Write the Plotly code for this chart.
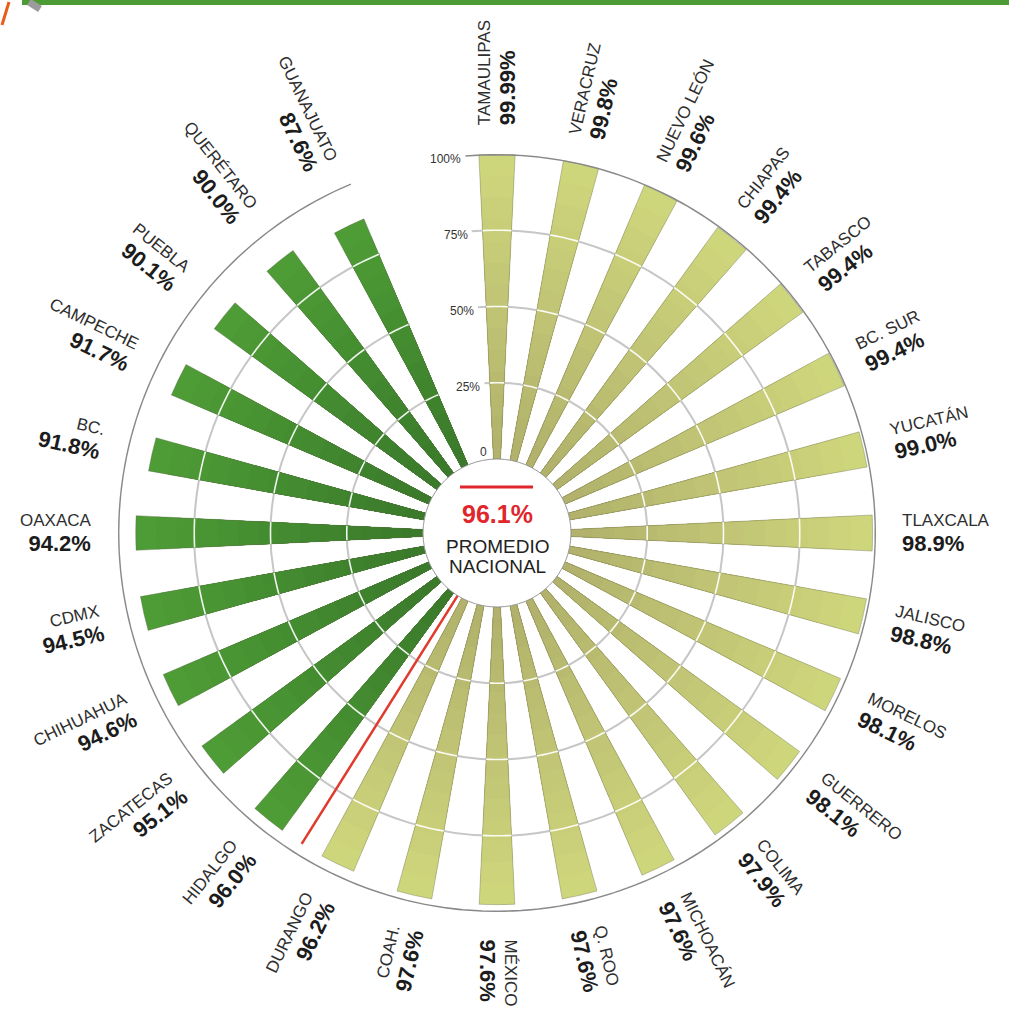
import math
import plotly.graph_objects as go

# ---------------- data ----------------
states = ["TAMAULIPAS", "VERACRUZ", "NUEVO LEÓN", "CHIAPAS", "TABASCO", "BC. SUR",
          "YUCATÁN", "TLAXCALA", "JALISCO", "MORELOS", "GUERRERO", "COLIMA",
          "MICHOACÁN", "Q. ROO", "MÉXICO", "COAH.", "DURANGO", "HIDALGO",
          "ZACATECAS", "CHIHUAHUA", "CDMX", "OAXACA", "BC.", "CAMPECHE",
          "PUEBLA", "QUERÉTARO", "GUANAJUATO"]
values = [99.99, 99.8, 99.6, 99.4, 99.4, 99.4, 99.0, 98.9, 98.8, 98.1, 98.1, 97.9,
          97.6, 97.6, 97.6, 97.6, 96.2, 96.0, 95.1, 94.6, 94.5, 94.2, 91.8, 91.7,
          90.1, 90.0, 87.6]
pct_labels = ["99.99%", "99.8%", "99.6%", "99.4%", "99.4%", "99.4%", "99.0%", "98.9%",
              "98.8%", "98.1%", "98.1%", "97.9%", "97.6%", "97.6%", "97.6%", "97.6%",
              "96.2%", "96.0%", "95.1%", "94.6%", "94.5%", "94.2%", "91.8%", "91.7%",
              "90.1%", "90.0%", "87.6%"]
national_avg = 96.1
radial_tickvals = [0, 25, 50, 75, 100]
radial_ticktext = ["0", "25%", "50%", "75%", "100%"]

# ---------------- geometry / style ----------------
W, H = 1009, 1011
CX, CY = 497, 533          # pixel centre of the polar
R_OUT = 379                # pixel radius of 100 %
R_HOLE = 74                # pixel radius of the hole
R_LABEL = 406              # inner edge of state labels
N_SLOTS = len(states) + 1  # one empty slot for the radial axis
STEP = 360.0 / N_SLOTS
BAR_W = 5.5
NAME_SIZE = 17
PCT_SIZE = 22

LIGHT_OUT, LIGHT_IN = (206, 214, 124), (178, 178, 108)
GREEN_OUT, GREEN_IN = (77, 156, 54), (58, 122, 42)
FONT = "Liberation Sans, Arial, sans-serif"

thetas = [i * STEP for i in range(len(states))]  # clockwise from top
above = [v > national_avg for v in values]


def math_angle(t):
    return 90.0 - t


def mix(c1, c2, f):
    return "rgb(%d,%d,%d)" % tuple(round(a + (b - a) * f) for a, b in zip(c1, c2))


# Arial / Liberation Sans widths (per 1000 em)
REG = dict(A=667, B=667, C=722, D=722, E=667, F=611, G=778, H=722, I=278, J=500,
           K=667, L=556, M=833, N=722, O=778, P=667, Q=778, R=722, S=667, T=611,
           U=722, V=667, W=944, X=667, Y=667, Z=611)
REG.update({" ": 278, ".": 278, "Á": 667, "É": 667, "Ó": 778, "%": 889})
BOLD = {".": 278, "%": 889}
for d in "0123456789":
    BOLD[d] = 556


def text_w(s, table, size):
    return sum(table.get(c, 600) for c in s) * size / 1000.0


def to_paper(px, py):
    return px / W, 1 - py / H


def r_px(v):
    return R_HOLE + v / 100.0 * (R_OUT - R_HOLE)


fig = go.Figure()

# bars with a radial colour gradient: full bar in outer colour, then nested
# shorter copies of the same bars in progressively darker colours
N_GRAD = 14
for j in range(N_GRAD):
    f = j / (N_GRAD - 1)
    frac = 1 - j / N_GRAD
    cols = [mix(LIGHT_OUT, LIGHT_IN, f) if a else mix(GREEN_OUT, GREEN_IN, f) for a in above]
    fig.add_trace(go.Barpolar(
        r=[v * frac for v in values], theta=thetas, width=BAR_W,
        marker=dict(color=cols, line=dict(width=0)),
        hoverinfo="skip", showlegend=False))
# outline of the bars
fig.add_trace(go.Barpolar(
    r=values, theta=thetas, width=BAR_W,
    marker=dict(color="rgba(0,0,0,0)", line=dict(color="rgba(100,100,80,0.5)", width=0.7)),
    hoverinfo="skip", showlegend=False))

# white grid arcs drawn over the bars
gr, gt = [], []
for g in radial_tickvals[1:-1]:
    for t, v in zip(thetas, values):
        if v > g:
            for j in range(7):
                gt.append(t - BAR_W / 2 + BAR_W * j / 6)
                gr.append(g)
            gt.append(None)
            gr.append(None)
fig.add_trace(go.Scatterpolar(r=gr, theta=gt, mode="lines", connectgaps=False,
                              line=dict(color="rgba(255,255,255,0.92)", width=1.6),
                              hoverinfo="skip", showlegend=False))

# red national-average line between last bar above and first bar below average
i_below = next(i for i, v in enumerate(values) if v < national_avg)
avg_theta = (thetas[i_below - 1] + thetas[i_below]) / 2
fig.add_trace(go.Scatterpolar(r=[0, national_avg], theta=[avg_theta, avg_theta],
                              mode="lines", line=dict(color="#e03a2c", width=2.5),
                              hoverinfo="skip", showlegend=False))

# open sector (gap between the last and first bar holds the radial-axis labels)
sector_start = math_angle(thetas[-1]) - 3.0
sector_end = math_angle(thetas[0]) + 4.8

# outer arc (instead of the closed angular axis outline)
t_start = 90 - sector_end          # just left of the first bar
t_end = 90 - sector_start + 360     # just past the last bar
n_arc = 240
arc_t = [t_start + (t_end - t_start) * i / n_arc for i in range(n_arc + 1)]
fig.add_trace(go.Scatterpolar(r=[100] * len(arc_t), theta=arc_t, mode="lines",
                              line=dict(color="#8a8a8a", width=2.8),
                              hoverinfo="skip", showlegend=False))

x0, y0 = to_paper(CX - R_OUT, CY + R_OUT)
x1, y1 = to_paper(CX + R_OUT, CY - R_OUT)

fig.update_layout(
    width=W, height=H,
    margin=dict(l=0, r=0, t=0, b=0),
    paper_bgcolor="white",
    showlegend=False,
    font=dict(family=FONT, color="#222"),
    polar=dict(
        domain=dict(x=[x0, x1], y=[y0, y1]),
        bgcolor="white",
        hole=R_HOLE / R_OUT,
        sector=[sector_start, sector_end],
        bargap=0,
        barmode="overlay",
        radialaxis=dict(range=[0, 100], tickvals=radial_tickvals, ticktext=radial_ticktext,
                        angle=sector_end, showticklabels=False,
                        showline=False, ticks="", gridcolor="#c6c6c6", gridwidth=1.6),
        angularaxis=dict(rotation=90, direction="clockwise",
                         showticklabels=False, ticks="", showgrid=False,
                         showline=False),
    ),
)

annotations = []
# radial axis tick labels, right-aligned against the axis line
phi_ax = math.radians(sector_end)
for k, (v, txt) in enumerate(zip(radial_tickvals, radial_ticktext)):
    rr = r_px(v)
    px = CX + rr * math.cos(phi_ax) - 2
    py = CY - rr * math.sin(phi_ax) + (4 if v > 0 else -7)
    ax, ay = to_paper(px, py)
    annotations.append(dict(x=ax, y=ay, xref="paper", yref="paper", showarrow=False,
                            xanchor="right", yanchor="middle", text=txt,
                            font=dict(size=12, color="#333", family=FONT)))

for name, pct, t in zip(states, pct_labels, thetas):
    phi = math_angle(t) % 360
    if phi > 180:
        phi -= 360
    right = -90 <= phi <= 90
    ang = -phi if right else 180 - (phi % 360)
    L = max(text_w(name, REG, NAME_SIZE), text_w(pct, BOLD, PCT_SIZE))
    rc = R_LABEL + L / 2
    px = CX + rc * math.cos(math.radians(phi))
    py = CY - rc * math.sin(math.radians(phi))
    ax, ay = to_paper(px, py)
    annotations.append(dict(
        x=ax, y=ay, xref="paper", yref="paper", showarrow=False,
        xanchor="center", yanchor="middle", textangle=ang,
        align="left" if right else "right",
        font=dict(size=19, family=FONT, color="#222"),
        text=f"<span style='font-size:{NAME_SIZE}px;color:#2e2e2e'>{name}</span><br>"
             f"<b><span style='font-size:{PCT_SIZE}px;color:#1c1c1c'>{pct}</span></b>"))

# centre texts
ax, ay = to_paper(CX, 514)
annotations.append(dict(x=ax, y=ay, xref="paper", yref="paper", showarrow=False,
                        xanchor="center", yanchor="middle",
                        text=f"<b>{national_avg}%</b>",
                        font=dict(size=25, color="#e0262b", family=FONT)))
for txt, yy in [("PROMEDIO", 546), ("NACIONAL", 566)]:
    ax, ay = to_paper(CX, yy)
    annotations.append(dict(x=ax, y=ay, xref="paper", yref="paper", showarrow=False,
                            xanchor="center", yanchor="middle", text=txt,
                            font=dict(size=19, color="#222", family=FONT)))
fig.update_layout(annotations=annotations)

shapes = []
# hole outline
hx0, hy0 = to_paper(CX - R_HOLE, CY + R_HOLE)
hx1, hy1 = to_paper(CX + R_HOLE, CY - R_HOLE)
shapes.append(dict(type="circle", xref="paper", yref="paper", x0=hx0, y0=hy0, x1=hx1, y1=hy1,
                   line=dict(color="#9a9a9a", width=1), fillcolor="white", layer="above"))
# red dash above the average value
lx0, ly = to_paper(460, 487)
lx1, _ = to_paper(533, 487)
shapes.append(dict(type="line", xref="paper", yref="paper", x0=lx0, x1=lx1, y0=ly, y1=ly,
                   line=dict(color="#e0262b", width=3)))
# top green band and logo fragment
gx0, gy0 = to_paper(22, 5)
gx1, gy1 = to_paper(W, 0)
shapes.append(dict(type="rect", xref="paper", yref="paper", x0=gx0, x1=gx1, y0=gy0, y1=gy1,
                   line=dict(width=0), fillcolor="#4c9b34"))
ox0, oy0 = to_paper(2, 25)
ox1, oy1 = to_paper(9, 2)
shapes.append(dict(type="line", xref="paper", yref="paper", x0=ox0, y0=oy0, x1=ox1, y1=oy1,
                   line=dict(color="#e85d1c", width=3)))
sx0, sy0 = to_paper(29, 2)
sx1, sy1 = to_paper(40, 9)
shapes.append(dict(type="line", xref="paper", yref="paper", x0=sx0, y0=sy0, x1=sx1, y1=sy1,
                   line=dict(color="#9c9c9c", width=7)))
fig.update_layout(shapes=shapes)

fig.write_html("out.html", config={"displayModeBar": False},
               post_script="document.body.style.margin='0';document.body.style.overflow='hidden';")
